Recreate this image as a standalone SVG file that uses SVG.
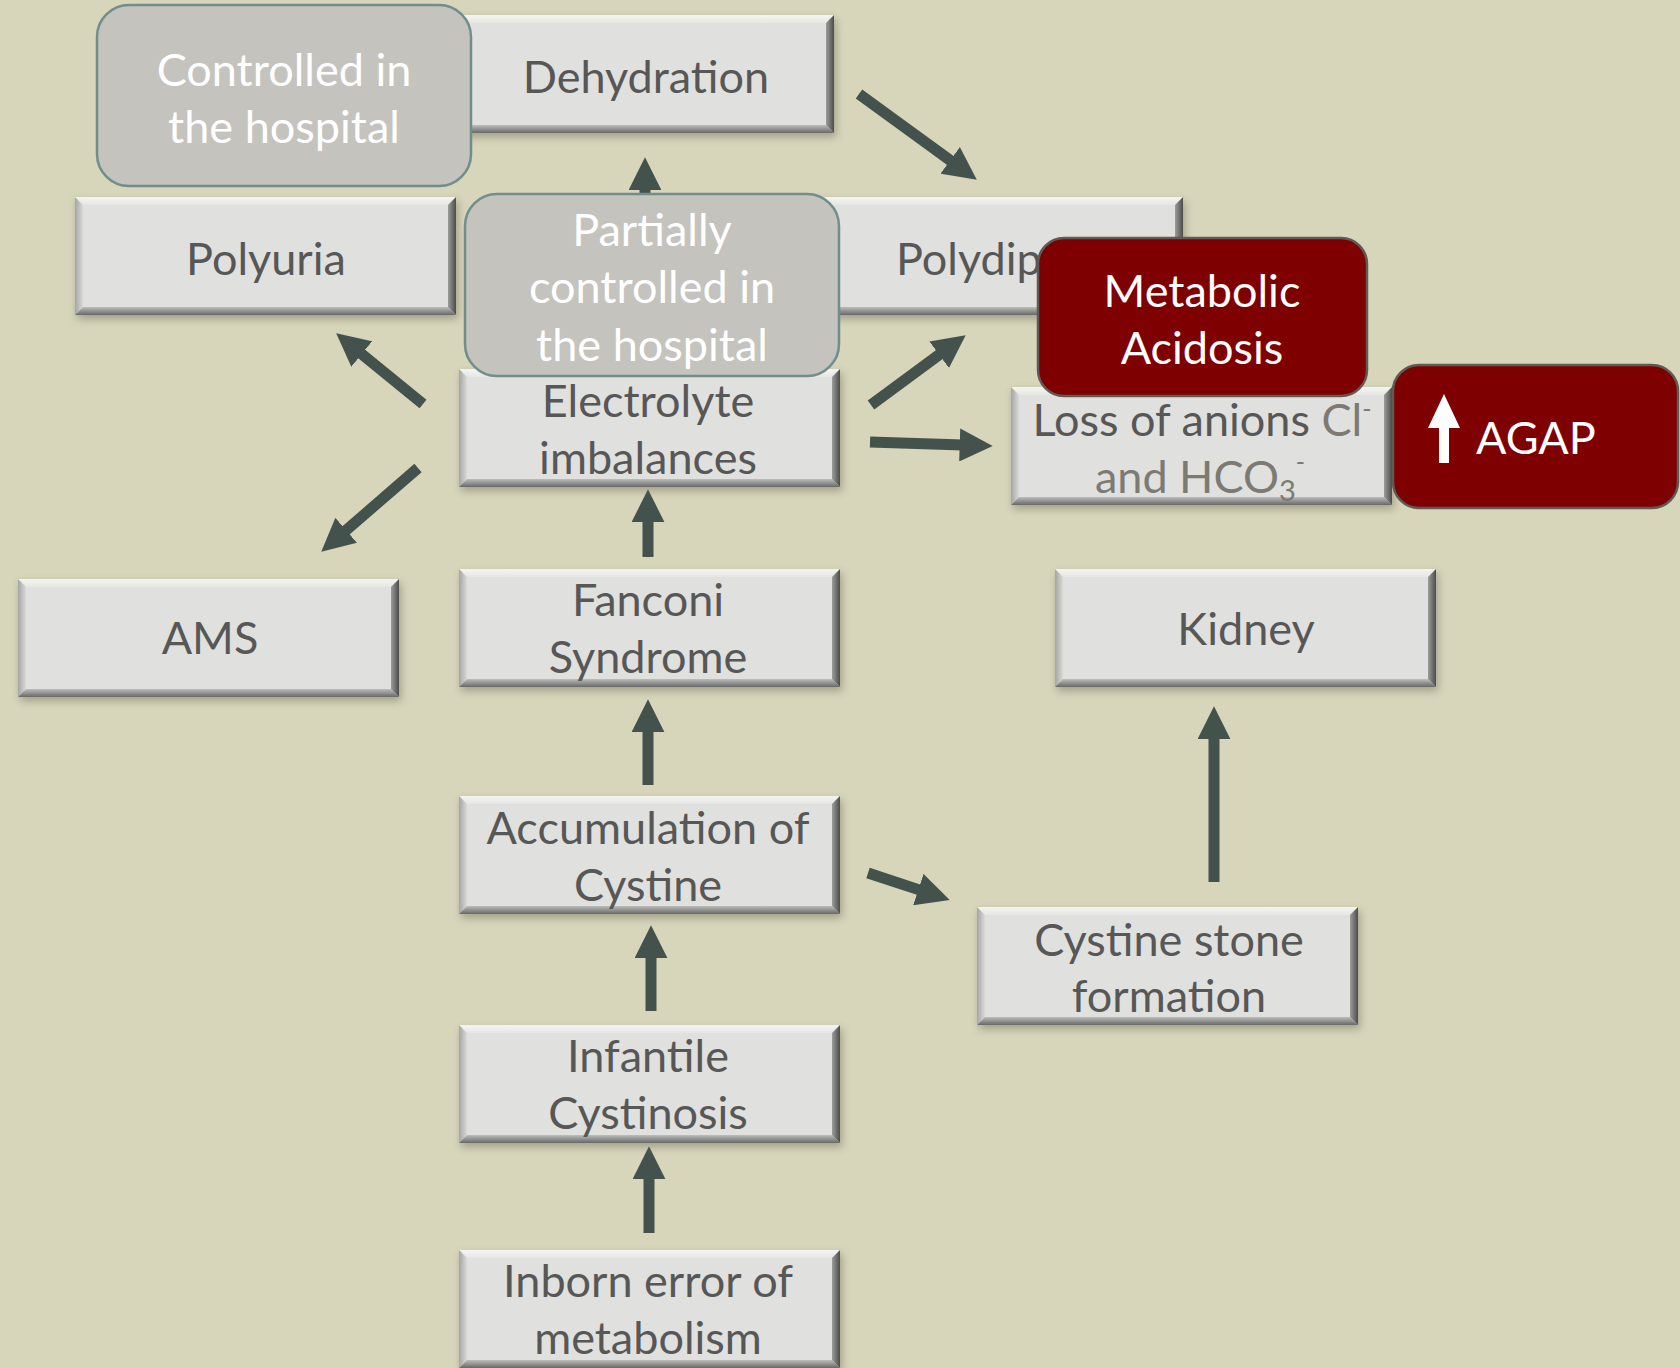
<svg xmlns="http://www.w3.org/2000/svg" xmlns:xlink="http://www.w3.org/1999/xlink" width="1680" height="1368" viewBox="0 0 1680 1368">
  <style>
    .t { font-family: Lato, "Open Sans", "Liberation Sans", sans-serif; font-size: 45px; fill: #575757; text-anchor: middle; }
    .w { font-family: Lato, "Open Sans", "Liberation Sans", sans-serif; font-size: 45px; fill: #ffffff; text-anchor: middle; }
    .lt { fill: #7c7a73; }
    .arr { stroke: #44524e; stroke-width: 11; fill: none; marker-end: url(#ah); }
    .grey { fill: #c4c3bd; stroke: #6f8e8c; stroke-width: 2.5; }
    .red { fill: #7f0000; stroke: #5e5a55; stroke-width: 2.5; }
  </style>
  <defs>
    <filter id="soft" x="-10%" y="-20%" width="120%" height="140%">
      <feGaussianBlur stdDeviation="4"/>
    </filter>
    <linearGradient id="gTop" x1="0" y1="0" x2="0" y2="1">
      <stop offset="0" stop-color="#f4f4f2"/>
      <stop offset="1" stop-color="#e6e6e4"/>
    </linearGradient>
    <linearGradient id="gLeft" x1="0" y1="0" x2="1" y2="0">
      <stop offset="0" stop-color="#a4a4a2"/>
      <stop offset="1" stop-color="#dadad8"/>
    </linearGradient>
    <linearGradient id="gBot" x1="0" y1="0" x2="0" y2="1">
      <stop offset="0" stop-color="#bdbdbb"/>
      <stop offset="1" stop-color="#686868"/>
    </linearGradient>
    <linearGradient id="gRight" x1="0" y1="0" x2="1" y2="0">
      <stop offset="0" stop-color="#9c9c9a"/>
      <stop offset="1" stop-color="#4c4c4c"/>
    </linearGradient>
    <marker id="ah" viewBox="0 0 10 10" refX="1" refY="5" markerWidth="3" markerHeight="3" orient="auto" markerUnits="strokeWidth">
      <path d="M0,0 L10,5 L0,10 z" fill="#44524e"/>
    </marker>
    <!-- angled bevel box with soft shadow -->
    <symbol id="bevel" viewBox="0 0 381 118" overflow="visible">
      <rect x="2" y="4" width="381" height="118" fill="#5f5e4c" opacity="0.45" filter="url(#soft)"/>
      <rect width="381" height="118" fill="#e0e0de"/>
      <polygon points="0,0 381,0 373,8 8,8" fill="url(#gTop)"/>
      <polygon points="0,0 8,8 8,110 0,118" fill="url(#gLeft)"/>
      <polygon points="0,118 8,110 373,110 381,118" fill="url(#gBot)"/>
      <polygon points="381,0 381,118 373,110 373,8" fill="url(#gRight)"/>
    </symbol>
  </defs>

  <rect width="1680" height="1368" fill="#d7d5ba"/>

  <!-- connectors -->
  <g id="connectors">
    <line class="arr" x1="645" y1="200" x2="645" y2="187"/>
    <line class="arr" x1="859" y1="94" x2="952.8" y2="162.3"/>
    <line class="arr" x1="423" y1="404" x2="359.2" y2="352"/>
    <line class="arr" x1="418" y1="468" x2="343.7" y2="532.4"/>
    <line class="arr" x1="871" y1="405" x2="941.8" y2="352.8"/>
    <line class="arr" x1="870" y1="442" x2="963" y2="445"/>
    <line class="arr" x1="648" y1="557" x2="648" y2="519"/>
    <line class="arr" x1="648" y1="785" x2="648" y2="729"/>
    <line class="arr" x1="868" y1="873" x2="921.5" y2="890.6"/>
    <line class="arr" x1="651" y1="1011" x2="651" y2="955"/>
    <line class="arr" x1="649" y1="1233" x2="649" y2="1176"/>
    <line class="arr" x1="1214" y1="882" x2="1214" y2="736"/>
  </g>

  <!-- bevelled nodes -->
  <g id="dehydration">
    <use xlink:href="#bevel" x="453" y="15" width="381" height="118"/>
    <text class="t" x="646" y="93">Dehydration</text>
  </g>
  <g id="polyuria">
    <use xlink:href="#bevel" x="75" y="197" width="381" height="118"/>
    <text class="t" x="266" y="275">Polyuria</text>
  </g>
  <g id="polydipsia">
    <use xlink:href="#bevel" x="802" y="197" width="381" height="118"/>
    <text class="t" x="896" y="275" style="text-anchor:start">Polydip</text>
  </g>
  <g id="electrolyte">
    <use xlink:href="#bevel" x="459" y="369" width="381" height="118"/>
    <text class="t" x="648" y="417">Electrolyte</text>
    <text class="t" x="648" y="474">imbalances</text>
  </g>
  <g id="loss-anions">
    <use xlink:href="#bevel" x="1011" y="387" width="381" height="118"/>
    <text class="t" x="1202" y="436" font-size="43">Loss of anions <tspan class="lt">Cl</tspan><tspan class="lt" dy="-18" font-size="25">-</tspan></text>
    <text class="t lt" x="1200" y="493" font-size="43">and HCO<tspan dy="8" font-size="29">3</tspan><tspan dy="-30" font-size="25">-</tspan></text>
  </g>
  <g id="ams">
    <use xlink:href="#bevel" x="18" y="579" width="381" height="118"/>
    <text class="t" x="210" y="654">AMS</text>
  </g>
  <g id="fanconi">
    <use xlink:href="#bevel" x="459" y="569" width="381" height="118"/>
    <text class="t" x="648" y="616">Fanconi</text>
    <text class="t" x="648" y="673">Syndrome</text>
  </g>
  <g id="kidney">
    <use xlink:href="#bevel" x="1055" y="569" width="381" height="118"/>
    <text class="t" x="1246" y="645">Kidney</text>
  </g>
  <g id="accumulation">
    <use xlink:href="#bevel" x="459" y="796" width="381" height="118"/>
    <text class="t" x="648" y="844">Accumulation of</text>
    <text class="t" x="648" y="901">Cystine</text>
  </g>
  <g id="stone">
    <use xlink:href="#bevel" x="977" y="907" width="381" height="118"/>
    <text class="t" x="1169" y="956">Cystine stone</text>
    <text class="t" x="1169" y="1012">formation</text>
  </g>
  <g id="infantile">
    <use xlink:href="#bevel" x="459" y="1025" width="381" height="118"/>
    <text class="t" x="648" y="1072">Infantile</text>
    <text class="t" x="648" y="1129">Cystinosis</text>
  </g>
  <g id="inborn">
    <use xlink:href="#bevel" x="459" y="1250" width="381" height="118"/>
    <text class="t" x="648" y="1297">Inborn error of</text>
    <text class="t" x="648" y="1354">metabolism</text>
  </g>

  <!-- rounded callouts -->
  <g id="controlled">
    <rect class="grey" x="97" y="5" width="374" height="181" rx="32"/>
    <text class="w" x="284" y="86">Controlled in</text>
    <text class="w" x="284" y="143">the hospital</text>
  </g>
  <g id="partially">
    <rect class="grey" x="465" y="194" width="374" height="182" rx="32"/>
    <text class="w" x="652" y="246">Partially</text>
    <text class="w" x="652" y="303">controlled in</text>
    <text class="w" x="652" y="361">the hospital</text>
  </g>
  <g id="metabolic">
    <rect class="red" x="1038" y="238" width="329" height="158" rx="26"/>
    <text class="w" x="1202" y="307">Metabolic</text>
    <text class="w" x="1202" y="364">Acidosis</text>
  </g>
  <g id="agap">
    <rect class="red" x="1393" y="365" width="285" height="143" rx="26"/>
    <polygon points="1444,394 1460,428 1449,428 1449,463 1439,463 1439,428 1428,428" fill="#ffffff"/>
    <text class="w" x="1476" y="454" style="text-anchor:start">AGAP</text>
  </g>
</svg>
